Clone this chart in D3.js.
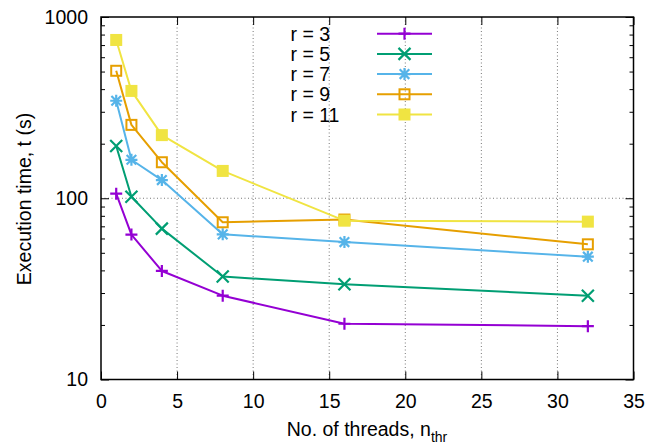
<!DOCTYPE html>
<html>
<head>
<meta charset="utf-8">
<script src="https://cdn.jsdelivr.net/npm/d3@7"></script>
<style>
  html, body { margin: 0; padding: 0; background: #fff; }
  svg { display: block; }
  text { font-family: "Liberation Sans", Arial, Helvetica, sans-serif; fill: #000; }
</style>
</head>
<body>
<svg id="chart" width="646" height="444"></svg>
<script>
// Thread counts used in the runs
const threads = [1, 2, 4, 8, 16, 32];

// Execution times (s) per stencil radius r
const timesR3  = [106, 63, 39.7, 29.0, 20.3, 19.7];
const timesR5  = [194, 102, 68.0, 37.0, 33.5, 29.0];
const timesR7  = [345, 163, 126, 63.2, 57.3, 47.6];
const timesR9  = [505, 254, 158, 73.7, 76.3, 55.7];
const timesR11 = [747, 391, 223, 141.5, 75.2, 74.3];

const seriesLabels = ["r = 3", "r = 5", "r = 7", "r = 9", "r = 11"];
const seriesColors = ["#9400d3", "#009e73", "#56b4e9", "#e69f00", "#f0e442"];
const seriesMarkers = ["plus", "cross", "star", "openSquare", "filledSquare"];

// Axis ticks
const xTicks = [0, 5, 10, 15, 20, 25, 30, 35];
const yMajorTicks = [10, 100, 1000];
const yMinorTicks = [20, 30, 40, 50, 60, 70, 80, 90, 200, 300, 400, 500, 600, 700, 800, 900];

const xLabel = "No. of threads, n";
const xLabelSub = "thr";
const yLabel = "Execution time, t (s)";

const series = [timesR3, timesR5, timesR7, timesR9, timesR11].map((vals, i) => ({
  label: seriesLabels[i],
  color: seriesColors[i],
  marker: seriesMarkers[i],
  points: threads.map((t, j) => ({ x: t, y: vals[j] }))
}));

const svg = d3.select("#chart");
const plot = { left: 101, right: 633.5, top: 17, bottom: 379.5 };

const x = d3.scaleLinear().domain([0, 35]).range([plot.left, plot.right]);
const y = d3.scaleLog().domain([10, 1000]).range([plot.bottom, plot.top]);

const fontSize = 19.5;

// Grid lines (dotted) at major ticks inside the frame
const grid = svg.append("g").attr("stroke", "#777").attr("stroke-width", 1)
  .attr("stroke-dasharray", "1,2.5");
grid.selectAll("line.gx").data(xTicks.filter(d => d > 0 && d < 35)).join("line")
  .attr("x1", d => x(d)).attr("x2", d => x(d))
  .attr("y1", plot.top).attr("y2", plot.bottom);
grid.selectAll("line.gy").data(yMajorTicks.filter(d => d > 10 && d < 1000)).join("line")
  .attr("x1", plot.left).attr("x2", plot.right)
  .attr("y1", d => y(d)).attr("y2", d => y(d));

function styleAxis(g, withText) {
  g.select(".domain").remove();
  g.selectAll(".tick line").attr("stroke", "#000").attr("stroke-width", 1);
  if (withText) {
    g.selectAll(".tick text").attr("font-size", fontSize)
      .attr("font-family", '"Liberation Sans", Arial, Helvetica, sans-serif')
      .attr("fill", "#000");
  } else {
    g.selectAll(".tick text").remove();
  }
}

// Bottom axis with labels, top mirror
svg.append("g").attr("transform", `translate(0,${plot.bottom})`)
  .call(d3.axisBottom(x).tickValues(xTicks).tickSize(-8).tickPadding(15).tickFormat(d3.format("d")))
  .call(g => styleAxis(g, true));
svg.append("g").attr("transform", `translate(0,${plot.top})`)
  .call(d3.axisTop(x).tickValues(xTicks).tickSize(-8).tickFormat(""))
  .call(g => styleAxis(g, false));

// Left axis with labels, minor ticks, right mirror
svg.append("g").attr("transform", `translate(${plot.left},0)`)
  .call(d3.axisLeft(y).tickValues(yMajorTicks).tickSize(-8).tickPadding(13).tickFormat(d3.format("d")))
  .call(g => styleAxis(g, true));
svg.append("g").attr("transform", `translate(${plot.left},0)`)
  .call(d3.axisLeft(y).tickValues(yMinorTicks).tickSize(-4).tickFormat(""))
  .call(g => styleAxis(g, false));
svg.append("g").attr("transform", `translate(${plot.right},0)`)
  .call(d3.axisRight(y).tickValues(yMajorTicks).tickSize(-8).tickFormat(""))
  .call(g => styleAxis(g, false));
svg.append("g").attr("transform", `translate(${plot.right},0)`)
  .call(d3.axisRight(y).tickValues(yMinorTicks).tickSize(-4).tickFormat(""))
  .call(g => styleAxis(g, false));

// Frame
svg.append("rect")
  .attr("x", plot.left).attr("y", plot.top)
  .attr("width", plot.right - plot.left).attr("height", plot.bottom - plot.top)
  .attr("fill", "none").attr("stroke", "#000").attr("stroke-width", 1.5);

// Point symbols
const ms = 6;
function drawMarker(g, type, cx, cy, color) {
  const p = d3.path();
  if (type === "plus" || type === "star") {
    p.moveTo(cx - ms, cy); p.lineTo(cx + ms, cy);
    p.moveTo(cx, cy - ms); p.lineTo(cx, cy + ms);
  }
  if (type === "cross" || type === "star") {
    const k = type === "star" ? ms * 0.8 : ms;
    p.moveTo(cx - k, cy - k); p.lineTo(cx + k, cy + k);
    p.moveTo(cx - k, cy + k); p.lineTo(cx + k, cy - k);
  }
  if (type === "plus" || type === "cross" || type === "star") {
    g.append("path").attr("d", p.toString()).attr("stroke", color)
      .attr("stroke-width", 2.2).attr("fill", "none");
  } else if (type === "openSquare") {
    g.append("rect").attr("x", cx - 5).attr("y", cy - 5).attr("width", 10).attr("height", 10)
      .attr("fill", "none").attr("stroke", color).attr("stroke-width", 2);
  } else if (type === "filledSquare") {
    g.append("rect").attr("x", cx - 6).attr("y", cy - 6).attr("width", 12).attr("height", 12)
      .attr("fill", color);
  }
}

const line = d3.line().x(d => x(d.x)).y(d => y(d.y));

// Series: line then symbols, later series drawn on top
series.forEach(s => {
  const g = svg.append("g");
  g.append("path").datum(s.points).attr("d", line)
    .attr("fill", "none").attr("stroke", s.color).attr("stroke-width", 2)
    .attr("stroke-linejoin", "round");
  s.points.forEach(pt => drawMarker(g, s.marker, x(pt.x), y(pt.y), s.color));
});

// Legend
const legendRow0 = 33.7, legendStep = 20.2;
series.forEach((s, i) => {
  const ly = legendRow0 + i * legendStep;
  const g = svg.append("g");
  g.append("text").attr("x", 290.5).attr("y", ly).attr("dy", "0.36em")
    .attr("text-anchor", "start").attr("font-size", fontSize).text(s.label);
  g.append("line").attr("x1", 377).attr("x2", 432).attr("y1", ly).attr("y2", ly)
    .attr("stroke", s.color).attr("stroke-width", 2);
  drawMarker(g, s.marker, 404.5, ly, s.color);
});

// Axis titles
const xt = svg.append("text").attr("x", 367).attr("y", 435.5)
  .attr("text-anchor", "middle").attr("font-size", fontSize);
xt.append("tspan").text(xLabel);
xt.append("tspan").attr("font-size", 14).attr("dy", 6).text(xLabelSub);

svg.append("text")
  .attr("transform", `translate(31,199) rotate(-90)`)
  .attr("text-anchor", "middle").attr("font-size", fontSize)
  .text(yLabel);
</script>
</body>
</html>
